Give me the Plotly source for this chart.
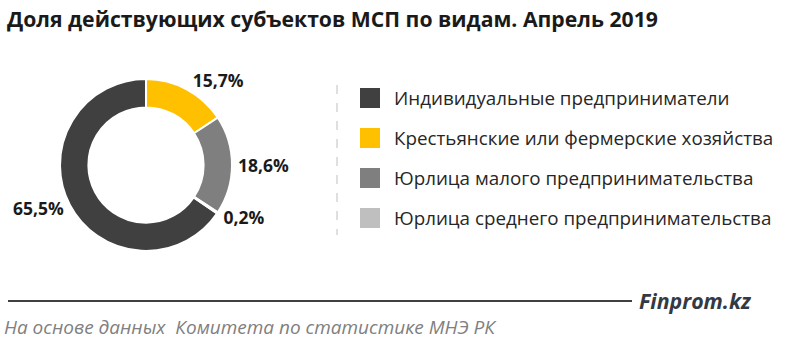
import plotly.graph_objects as go

categories = [
    "Индивидуальные предприниматели",
    "Крестьянские или фермерские хозяйства",
    "Юрлица малого предпринимательства",
    "Юрлица среднего предпринимательства",
]
shares = [65.5, 15.7, 18.6, 0.2]
value_labels = ["65,5%", "15,7%", "18,6%", "0,2%"]
colors = ["#404040", "#FFC000", "#7F7F7F", "#BFBFBF"]

title_text = "Доля действующих субъектов МСП по видам. Апрель 2019"
source_text = "На основе данных  Комитета по статистике МНЭ РК"
brand_text = "Finprom.kz"

# dark slice starts where the other three end (clockwise from 12 o'clock)
start_angle = 360 * sum(shares[1:]) / sum(shares)

W, H = 800, 343

fig = go.Figure()
fig.add_trace(go.Pie(
    labels=categories,
    values=shares,
    text=value_labels,
    textinfo="text",
    textposition="outside",
    automargin=False,
    textfont=dict(family="Open Sans", size=17.5, color="#1a1a1a", weight="bold"),
    marker=dict(colors=colors, line=dict(color="white", width=2)),
    hole=0.67,
    sort=False,
    direction="clockwise",
    rotation=start_angle,
    showlegend=False,
    domain=dict(x=[60 / W, 232 / W], y=[1 - 251 / H, 1 - 79 / H]),
    hoverinfo="label+percent",
))

# custom legend
leg_x0 = 360 / W
leg_top = 98
leg_step = 40
annotations = []
shapes = []
for i, (cat, col) in enumerate(zip(categories, colors)):
    yc = 1 - (leg_top + i * leg_step) / H
    shapes.append(dict(type="rect", xref="paper", yref="paper",
                       x0=leg_x0, x1=leg_x0 + 20 / W,
                       y0=yc - 10 / H, y1=yc + 10 / H,
                       fillcolor=col, line=dict(width=0)))
    annotations.append(dict(text=cat, xref="paper", yref="paper",
                            x=392 / W, y=yc, xanchor="left", yanchor="middle",
                            showarrow=False,
                            font=dict(family="Open Sans", size=18.8, color="#262626")))

# dashed separator
shapes.append(dict(type="line", xref="paper", yref="paper",
                   x0=337 / W, x1=337 / W, y0=1 - 85 / H, y1=1 - 235 / H,
                   line=dict(color="#BFBFBF", width=1, dash="dash")))
# footer rule
shapes.append(dict(type="line", xref="paper", yref="paper",
                   x0=8 / W, x1=632 / W, y0=1 - 301 / H, y1=1 - 301 / H,
                   line=dict(color="#404040", width=2)))

annotations.append(dict(text=title_text, xref="paper", yref="paper",
                        x=5 / W, y=1 - 19 / H, xanchor="left", yanchor="middle",
                        showarrow=False,
                        font=dict(family="Open Sans", size=21.2, color="#1a1a1a", weight="bold")))
annotations.append(dict(text="<i>" + brand_text + "</i>", xref="paper", yref="paper",
                        x=637 / W, y=1 - 300 / H, xanchor="left", yanchor="middle",
                        showarrow=False,
                        font=dict(family="Open Sans", size=21.3, color="#333a44", weight="bold")))
annotations.append(dict(text="<i>" + source_text + "</i>", xref="paper", yref="paper",
                        x=2 / W, y=1 - 327 / H, xanchor="left", yanchor="middle",
                        showarrow=False,
                        font=dict(family="Open Sans", size=19, color="#808080")))

fig.update_layout(
    width=W, height=H,
    margin=dict(l=0, r=0, t=0, b=0, autoexpand=False),
    paper_bgcolor="white",
    plot_bgcolor="white",
    shapes=shapes,
    annotations=annotations,
)

fig.write_html("out.html")
